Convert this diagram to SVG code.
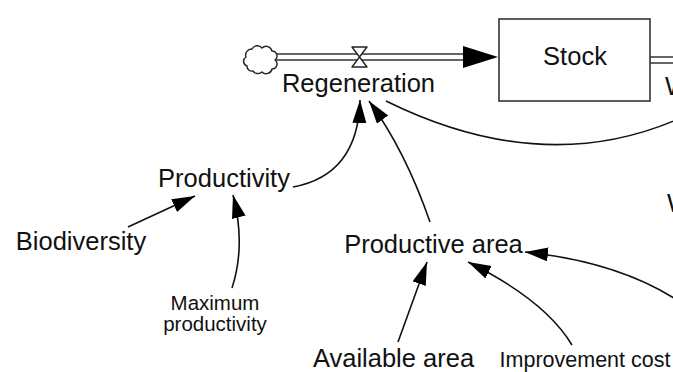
<svg xmlns="http://www.w3.org/2000/svg" width="673" height="372" viewBox="0 0 673 372">
  <style>
    .lbl { font-family: "Liberation Sans", Arial, sans-serif; font-size: 25.5px; fill: #111; text-anchor: middle; }
    .sm { font-size: 20.5px; }
    .link { fill: none; stroke: #111; stroke-width: 1.6; marker-end: url(#head); }
    .pipe { fill: none; stroke: #333; stroke-width: 1.5; }
  </style>
  <defs>
    <marker id="head" markerUnits="userSpaceOnUse" markerWidth="24" markerHeight="16" refX="23" refY="7" orient="auto">
      <path d="M0,0 L23,7 L0,14 Z" fill="#000"/>
    </marker>
  </defs>
  <rect width="673" height="372" fill="#fff"/>

  <!-- inflow: source cloud, pipe, valve -->
  <g id="source">
    <path d="M247,66 a5,5 0 0 1 -1,-9 a6,6 0 0 1 6,-8 a6,6 0 0 1 10,-1 a6,6 0 0 1 10,3 a5,5 0 0 1 3,9 a5,5 0 0 1 -3,9 a6,6 0 0 1 -10,3 a6,6 0 0 1 -9,-1 a5,5 0 0 1 -6,-5 z" fill="#fff" stroke="#222" stroke-width="1.4"/>
  </g>
  <g id="inflow-pipe">
    <line class="pipe" x1="276" y1="54" x2="465" y2="54"/>
    <line class="pipe" x1="276" y1="60" x2="465" y2="60"/>
    <polygon points="463,46 498,57 463,68" fill="#000"/>
  </g>
  <g id="regeneration">
    <polygon points="352,47 367,47 359.5,57 352,67 367,67 359.5,57" fill="#fff" stroke="#222" stroke-width="1.4" stroke-linejoin="round"/>
    <text class="lbl" x="358.5" y="92">Regeneration</text>
  </g>

  <!-- stock with outflow -->
  <g id="stock">
    <rect x="499" y="19" width="151" height="82" fill="#fff" stroke="#333" stroke-width="1.6"/>
    <text class="lbl" x="575" y="65">Stock</text>
  </g>
  <g id="outflow-pipe">
    <line class="pipe" x1="650" y1="57" x2="680" y2="57"/>
    <line class="pipe" x1="650" y1="63" x2="680" y2="63"/>
  </g>
  <g id="outflow-label">
    <text class="lbl" x="665" y="95" style="text-anchor:start">W</text>
  </g>
  <g id="right-variable">
    <text class="lbl" x="667" y="212" style="text-anchor:start">W</text>
  </g>

  <!-- auxiliaries -->
  <g id="productivity"><text class="lbl" x="224" y="187">Productivity</text></g>
  <g id="biodiversity"><text class="lbl" x="81" y="250">Biodiversity</text></g>
  <g id="maximum-productivity">
    <text class="lbl sm" x="215" y="310">Maximum</text>
    <text class="lbl sm" x="215" y="331">productivity</text>
  </g>
  <g id="productive-area"><text class="lbl" x="433.5" y="253">Productive area</text></g>
  <g id="available-area"><text class="lbl" x="393.5" y="367">Available area</text></g>
  <g id="improvement-cost"><text class="lbl" x="585" y="367" style="font-size:21.5px">Improvement cost</text></g>

  <!-- information links -->
  <g id="connectors">
    <path class="link" d="M128,227 L195,196"/>
    <path class="link" d="M232,288 Q246,245 233,195"/>
    <path class="link" d="M293,187 Q358,175 360,100"/>
    <path class="link" d="M430,222 Q405,150 369,101"/>
    <path d="M386,101 Q546,180 685,116" fill="none" stroke="#111" stroke-width="1.6"/>
    <path class="link" d="M398,342 L427,262"/>
    <path class="link" d="M572,345 Q545,300 468,262"/>
    <path class="link" d="M680,302 Q620,262 525,252"/>
  </g>
</svg>
